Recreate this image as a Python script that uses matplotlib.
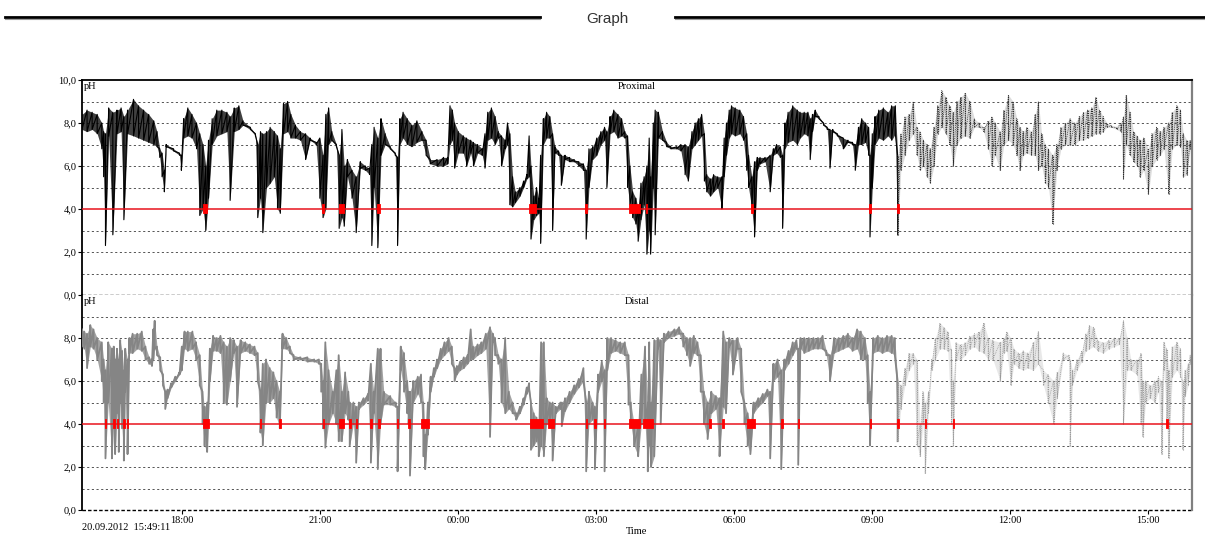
import matplotlib
matplotlib.use("Agg")
import matplotlib.pyplot as plt
from matplotlib.lines import Line2D
import numpy as np

# recording start 20.09.2012 15:49:11, in clock hours
START_CLOCK = 15 + 49 / 60 + 11 / 3600
DURATION_H = 24.13
LIGHT_AFTER = 17.75   # trace is drawn lighter/dotted after this (h after start)

# (hours after start, min pH, max pH)
prox_samples = [
    (0.00, 7.7, 8.4), (0.11, 7.6, 8.6), (0.22, 7.7, 8.5), (0.33, 7.5, 8.4), (0.43, 6.8, 8.0),
    (0.47, 5.5, 7.6), (0.51, 2.3, 7.5), (0.58, 7.4, 8.7), (0.67, 2.8, 8.5), (0.76, 7.5, 8.6),
    (0.85, 7.6, 8.7), (0.91, 3.5, 8.3), (0.99, 7.5, 8.6), (1.12, 7.4, 9.1), (1.23, 7.3, 8.8),
    (1.34, 7.2, 8.6), (1.45, 7.1, 8.4), (1.56, 7.0, 8.1), (1.63, 6.9, 7.6), (1.69, 6.4, 6.8),
    (1.74, 5.5, 6.6), (1.79, 4.8, 5.8), (1.83, 6.9, 7.0), (1.99, 6.7, 6.8), (2.12, 6.5, 6.6),
    (2.16, 5.8, 6.5), (2.21, 7.3, 8.2), (2.30, 7.4, 8.7), (2.39, 7.3, 8.4), (2.49, 6.8, 8.0),
    (2.56, 3.7, 7.5), (2.63, 4.0, 7.0), (2.69, 3.0, 6.0), (2.75, 4.5, 7.2), (2.83, 7.0, 8.2),
    (2.93, 7.4, 8.6), (3.04, 7.5, 8.6), (3.15, 7.6, 8.5), (3.22, 4.4, 8.3), (3.31, 7.6, 8.7),
    (3.41, 7.7, 8.8), (3.50, 7.9, 8.1), (3.66, 7.7, 7.8), (3.77, 7.4, 7.5), (3.82, 3.6, 7.0),
    (3.88, 4.5, 7.6), (3.93, 2.9, 7.5), (4.01, 5.0, 7.6), (4.09, 5.2, 7.8), (4.18, 5.5, 7.6),
    (4.25, 4.0, 7.4), (4.31, 3.8, 6.8), (4.38, 7.5, 8.9), (4.47, 7.6, 9.0), (4.54, 7.3, 8.4),
    (4.64, 7.3, 7.9), (4.75, 7.2, 7.6), (4.86, 6.3, 7.5), (4.96, 7.2, 7.3), (5.09, 7.0, 7.1),
    (5.17, 4.5, 7.3), (5.24, 3.6, 6.5), (5.30, 4.0, 8.4), (5.36, 7.0, 8.7), (5.43, 7.2, 7.6),
    (5.53, 6.9, 7.0), (5.59, 3.1, 6.5), (5.65, 3.6, 7.7), (5.70, 3.2, 6.0), (5.77, 5.5, 6.3),
    (5.87, 4.5, 5.8), (5.96, 2.9, 5.5), (6.05, 5.9, 6.2), (6.16, 5.8, 6.0), (6.25, 5.6, 5.9),
    (6.30, 2.3, 7.0), (6.35, 5.0, 7.8), (6.43, 2.2, 7.3), (6.50, 6.5, 8.2), (6.59, 7.0, 7.5),
    (6.70, 6.8, 6.9), (6.81, 6.5, 6.6), (6.86, 2.3, 6.4), (6.91, 7.0, 8.2), (6.98, 7.3, 8.5),
    (7.07, 7.0, 8.2), (7.17, 6.9, 7.9), (7.28, 7.1, 8.1), (7.39, 7.2, 7.6), (7.48, 6.5, 7.2),
    (7.57, 6.1, 6.3), (7.72, 6.0, 6.3), (7.86, 6.0, 6.4), (7.95, 6.1, 6.4), (8.00, 7.0, 8.8),
    (8.05, 7.2, 8.6), (8.10, 5.9, 8.0), (8.18, 6.6, 7.6), (8.29, 6.6, 7.4), (8.36, 6.0, 7.3),
    (8.45, 6.6, 7.2), (8.51, 6.0, 7.1), (8.60, 6.6, 7.0), (8.70, 6.5, 6.8), (8.76, 5.9, 7.5),
    (8.82, 7.2, 8.5), (8.90, 7.3, 8.7), (8.98, 7.0, 8.3), (9.05, 7.3, 7.6), (9.12, 6.0, 7.4),
    (9.20, 6.8, 7.2), (9.25, 7.0, 8.0), (9.30, 4.2, 7.5), (9.36, 4.1, 5.5), (9.42, 4.3, 4.8),
    (9.52, 4.6, 5.0), (9.60, 5.0, 5.3), (9.67, 5.4, 5.6), (9.72, 5.5, 7.4), (9.76, 2.6, 6.0),
    (9.82, 3.5, 4.6), (9.88, 3.7, 5.0), (9.93, 3.8, 4.5), (9.97, 2.4, 6.5), (10.03, 7.0, 8.2),
    (10.10, 7.3, 8.5), (10.17, 7.3, 8.3), (10.23, 3.0, 7.5), (10.28, 6.6, 6.9), (10.36, 6.5, 6.7),
    (10.42, 5.1, 6.5), (10.50, 6.3, 6.5), (10.60, 6.2, 6.4), (10.70, 6.2, 6.3), (10.80, 6.0, 6.2),
    (10.90, 5.8, 6.1), (10.96, 2.6, 5.8), (11.02, 5.0, 6.8), (11.10, 6.3, 6.9), (11.19, 6.5, 7.3),
    (11.28, 7.0, 7.6), (11.36, 7.2, 7.8), (11.41, 5.0, 7.6), (11.48, 7.5, 8.3), (11.56, 7.6, 8.6),
    (11.65, 7.3, 8.4), (11.73, 7.4, 8.2), (11.80, 7.3, 7.6), (11.86, 5.0, 7.4), (11.91, 4.2, 6.0),
    (11.97, 3.6, 4.8), (12.04, 3.3, 4.5), (12.09, 2.5, 4.0), (12.15, 3.5, 5.2), (12.22, 4.2, 5.5),
    (12.28, 1.9, 6.0), (12.33, 3.0, 7.3), (12.36, 1.9, 5.5), (12.42, 5.0, 8.0), (12.46, 2.8, 8.6),
    (12.53, 7.3, 8.5), (12.62, 7.2, 7.6), (12.71, 6.9, 7.1), (12.80, 6.8, 6.9), (12.93, 6.8, 6.9),
    (13.02, 6.7, 7.0), (13.11, 5.6, 7.0), (13.18, 5.3, 6.9), (13.26, 6.8, 7.6), (13.33, 7.0, 8.0),
    (13.40, 7.2, 8.2), (13.47, 7.4, 8.4), (13.53, 5.3, 7.5), (13.58, 4.8, 5.6), (13.66, 4.6, 5.4),
    (13.73, 4.8, 5.6), (13.82, 5.0, 5.5), (13.91, 4.0, 5.5), (13.96, 5.5, 7.3), (14.01, 6.5, 8.0),
    (14.07, 7.3, 8.6), (14.12, 7.5, 8.8), (14.20, 7.4, 8.7), (14.30, 7.5, 8.6), (14.38, 7.2, 8.3),
    (14.45, 5.8, 7.5), (14.49, 5.0, 6.5), (14.56, 4.0, 5.5), (14.62, 2.7, 6.2), (14.68, 5.8, 6.4),
    (14.74, 6.1, 6.4), (14.85, 6.2, 6.4), (14.96, 4.8, 6.5), (15.03, 6.5, 6.8), (15.10, 6.6, 7.0),
    (15.18, 6.4, 6.9), (15.23, 3.1, 6.5), (15.28, 6.8, 8.0), (15.35, 7.1, 8.5), (15.45, 7.2, 8.8),
    (15.55, 7.0, 8.6), (15.61, 7.3, 8.5), (15.70, 7.5, 8.5), (15.78, 7.4, 8.5), (15.83, 6.3, 8.2),
    (15.88, 7.6, 8.4), (15.94, 8.3, 8.6), (16.02, 8.2, 8.3), (16.12, 7.9, 8.0), (16.20, 7.7, 7.8),
    (16.26, 5.9, 7.7), (16.32, 7.6, 7.7), (16.42, 7.4, 7.5), (16.55, 6.8, 7.3), (16.65, 7.1, 7.2),
    (16.75, 7.0, 7.1), (16.81, 5.8, 7.0), (16.88, 7.0, 7.8), (16.95, 7.0, 8.2), (17.03, 7.1, 8.0),
    (17.10, 6.5, 7.8), (17.13, 2.7, 6.5), (17.18, 5.0, 7.5), (17.24, 7.0, 8.3), (17.32, 7.3, 8.6),
    (17.42, 7.2, 8.7), (17.52, 7.4, 8.5), (17.60, 7.2, 8.8), (17.68, 7.5, 8.8), (17.73, 2.8, 6.5),
    (17.80, 5.8, 7.5), (17.89, 6.5, 8.3), (17.98, 7.2, 8.4), (18.07, 7.5, 9.0), (18.15, 6.5, 7.8),
    (18.22, 5.8, 7.6), (18.29, 6.0, 7.2), (18.37, 5.5, 7.0), (18.44, 5.2, 6.8), (18.52, 6.0, 7.8),
    (18.60, 7.5, 8.8), (18.69, 7.8, 9.5), (18.78, 7.5, 9.2), (18.86, 7.0, 8.8), (18.94, 6.0, 8.5),
    (19.02, 7.0, 9.0), (19.10, 7.3, 9.2), (19.20, 7.4, 9.4), (19.30, 7.3, 9.0), (19.40, 7.8, 8.2),
    (19.50, 7.8, 8.0), (19.60, 7.6, 7.8), (19.70, 6.8, 8.1), (19.78, 6.0, 8.3), (19.85, 6.5, 8.0),
    (19.96, 5.8, 7.6), (20.04, 7.0, 8.6), (20.14, 7.2, 9.3), (20.24, 7.0, 9.0), (20.32, 6.5, 8.2),
    (20.39, 5.8, 7.8), (20.46, 6.5, 7.6), (20.54, 6.6, 7.8), (20.64, 6.5, 7.6), (20.72, 6.5, 8.4),
    (20.79, 5.8, 9.0), (20.86, 6.0, 7.5), (20.94, 5.2, 7.0), (21.01, 5.0, 6.8), (21.10, 3.3, 6.5),
    (21.19, 5.8, 7.0), (21.28, 6.8, 7.8), (21.38, 7.0, 8.0), (21.48, 7.0, 8.2), (21.58, 7.0, 8.0),
    (21.68, 7.2, 8.3), (21.77, 7.2, 8.5), (21.86, 7.3, 8.6), (21.95, 7.4, 8.7), (22.04, 7.5, 9.2),
    (22.12, 7.5, 8.6), (22.20, 7.6, 8.3), (22.28, 7.8, 8.0), (22.38, 7.8, 7.9), (22.49, 7.7, 7.8),
    (22.58, 7.6, 8.0), (22.64, 5.4, 8.3), (22.70, 7.0, 9.3), (22.78, 6.5, 8.5), (22.86, 6.2, 7.6),
    (22.94, 6.0, 7.4), (23.00, 5.5, 7.2), (23.08, 5.8, 7.3), (23.18, 4.7, 6.8), (23.26, 6.0, 7.5),
    (23.36, 6.3, 7.8), (23.44, 6.5, 7.6), (23.52, 6.8, 7.8), (23.62, 4.7, 8.0), (23.70, 6.8, 8.5),
    (23.80, 7.0, 8.8), (23.88, 6.9, 8.6), (23.94, 5.5, 7.5), (24.02, 5.6, 7.2), (24.09, 6.8, 7.2),
]

distal_samples = [
    (0.00, 7.6, 8.4), (0.05, 7.5, 8.3), (0.11, 6.6, 8.2), (0.18, 7.6, 8.6), (0.25, 7.5, 8.4),
    (0.33, 7.0, 8.0), (0.43, 6.0, 7.8), (0.47, 5.0, 7.0), (0.51, 2.4, 6.5), (0.57, 5.0, 7.8),
    (0.65, 2.4, 7.5), (0.69, 4.0, 7.6), (0.72, 2.6, 7.0), (0.76, 4.5, 7.5), (0.80, 2.7, 7.0),
    (0.83, 5.0, 7.9), (0.87, 3.8, 7.4), (0.91, 2.3, 6.5), (0.94, 5.5, 7.5), (0.99, 2.6, 7.0),
    (1.03, 7.3, 8.0), (1.10, 7.3, 8.2), (1.20, 7.5, 8.2), (1.30, 7.4, 8.3), (1.38, 7.0, 7.6),
    (1.46, 6.8, 7.1), (1.52, 6.7, 7.0), (1.55, 7.0, 8.4), (1.58, 7.5, 8.8), (1.63, 7.2, 7.6),
    (1.70, 6.5, 7.1), (1.76, 5.8, 6.3), (1.81, 4.7, 5.5), (1.86, 5.2, 5.6), (1.94, 5.7, 5.9),
    (2.03, 6.0, 6.2), (2.12, 6.3, 6.4), (2.17, 6.5, 7.6), (2.23, 7.5, 8.3), (2.30, 7.4, 8.3),
    (2.40, 7.5, 8.3), (2.48, 7.0, 7.8), (2.56, 5.8, 7.2), (2.62, 4.0, 5.5), (2.66, 3.0, 4.8),
    (2.72, 2.7, 5.0), (2.78, 6.0, 7.5), (2.85, 7.4, 8.1), (2.93, 7.4, 8.0), (3.01, 7.3, 8.1),
    (3.08, 5.0, 7.8), (3.15, 4.9, 7.6), (3.22, 6.0, 8.0), (3.30, 7.3, 7.9), (3.37, 4.8, 7.6),
    (3.45, 7.3, 7.9), (3.55, 7.4, 7.8), (3.65, 7.3, 7.7), (3.75, 7.2, 7.6), (3.82, 6.0, 7.3),
    (3.88, 3.6, 5.5), (3.93, 3.0, 6.8), (4.00, 5.0, 7.0), (4.08, 5.0, 6.6), (4.16, 5.2, 6.4),
    (4.23, 4.3, 6.0), (4.30, 3.8, 5.5), (4.36, 7.5, 8.2), (4.44, 7.5, 8.0), (4.52, 7.3, 7.6),
    (4.60, 7.0, 7.2), (4.75, 7.0, 7.1), (4.90, 6.9, 7.1), (5.05, 6.9, 7.0), (5.15, 6.8, 7.0),
    (5.20, 5.5, 6.8), (5.24, 3.8, 6.0), (5.29, 2.9, 7.8), (5.36, 4.0, 6.5), (5.45, 4.5, 5.5),
    (5.53, 4.0, 6.5), (5.58, 3.2, 7.2), (5.65, 3.2, 5.5), (5.72, 4.5, 6.4), (5.79, 4.2, 5.5),
    (5.82, 3.0, 5.0), (5.90, 4.0, 5.0), (5.96, 2.2, 4.8), (6.02, 4.7, 5.0), (6.12, 4.9, 5.2),
    (6.22, 5.1, 5.4), (6.28, 2.2, 6.8), (6.34, 4.5, 5.5), (6.43, 1.9, 7.5), (6.49, 4.0, 7.5),
    (6.56, 4.9, 5.5), (6.70, 4.9, 5.3), (6.82, 4.8, 5.0), (6.86, 1.8, 4.8), (6.93, 6.5, 7.6),
    (7.00, 5.5, 7.3), (7.07, 4.5, 6.0), (7.10, 4.0, 5.5), (7.13, 1.6, 5.5), (7.20, 5.0, 6.0),
    (7.30, 5.4, 6.2), (7.37, 5.0, 6.3), (7.42, 2.5, 5.0), (7.46, 1.9, 3.5), (7.52, 3.5, 5.0),
    (7.58, 5.5, 6.2), (7.65, 6.2, 6.6), (7.72, 6.6, 7.0), (7.80, 7.0, 7.5), (7.88, 7.2, 7.8),
    (7.97, 7.4, 8.0), (8.04, 6.8, 7.6), (8.10, 6.0, 6.6), (8.15, 6.3, 6.7), (8.22, 6.5, 6.9),
    (8.30, 6.6, 7.1), (8.38, 6.8, 7.2), (8.45, 7.0, 8.4), (8.50, 7.0, 7.6), (8.60, 7.2, 7.7),
    (8.68, 7.3, 7.8), (8.78, 7.5, 8.2), (8.87, 3.4, 8.5), (8.93, 7.8, 8.2), (8.98, 7.2, 8.0),
    (9.05, 6.8, 7.2), (9.12, 5.0, 7.0), (9.20, 4.5, 8.0), (9.28, 4.7, 5.5), (9.36, 4.5, 5.0),
    (9.44, 4.2, 4.5), (9.52, 4.5, 4.8), (9.60, 4.9, 5.2), (9.67, 5.4, 5.7), (9.72, 5.6, 5.9),
    (9.76, 2.8, 5.0), (9.82, 3.0, 4.5), (9.88, 3.2, 4.3), (9.93, 2.5, 4.0), (9.98, 3.0, 7.8),
    (10.04, 2.5, 7.8), (10.10, 4.0, 5.2), (10.17, 4.2, 5.0), (10.23, 2.3, 5.0), (10.30, 4.5, 4.8),
    (10.40, 4.7, 5.0), (10.43, 3.9, 5.0), (10.50, 4.6, 5.2), (10.60, 5.0, 5.5), (10.70, 5.4, 5.8),
    (10.80, 5.7, 6.1), (10.90, 6.0, 6.6), (10.96, 1.8, 5.0), (11.02, 4.0, 5.5), (11.10, 4.2, 5.0),
    (11.15, 1.9, 4.8), (11.22, 5.5, 6.3), (11.30, 6.0, 6.9), (11.36, 1.8, 6.5), (11.42, 6.5, 8.0),
    (11.50, 7.3, 8.0), (11.60, 7.4, 7.9), (11.70, 7.3, 7.8), (11.80, 7.2, 7.8), (11.88, 4.9, 7.2),
    (11.93, 4.0, 5.0), (12.00, 3.0, 4.0), (12.09, 2.5, 3.8), (12.16, 4.0, 6.3), (12.24, 4.0, 7.6),
    (12.30, 1.8, 5.0), (12.33, 3.0, 7.8), (12.37, 2.0, 5.0), (12.44, 2.5, 7.9), (12.52, 7.5, 8.0),
    (12.58, 4.0, 7.9), (12.65, 7.8, 8.2), (12.75, 8.0, 8.3), (12.88, 8.1, 8.4), (12.98, 8.2, 8.5),
    (13.07, 7.6, 8.2), (13.15, 7.2, 8.0), (13.22, 6.7, 8.0), (13.30, 7.3, 8.1), (13.38, 7.2, 7.8),
    (13.45, 5.5, 7.2), (13.52, 4.0, 5.5), (13.60, 3.3, 5.0), (13.68, 4.5, 5.5), (13.78, 4.7, 5.3),
    (13.86, 2.5, 5.2), (13.94, 4.8, 8.3), (14.00, 4.5, 7.8), (14.07, 7.6, 8.0), (14.15, 6.3, 7.9),
    (14.25, 7.5, 8.0), (14.33, 5.5, 7.5), (14.40, 4.0, 5.0), (14.47, 3.0, 4.5), (14.53, 2.6, 4.0),
    (14.60, 4.5, 5.0), (14.70, 4.8, 5.2), (14.80, 5.0, 5.4), (14.90, 5.3, 5.6), (14.96, 2.4, 5.5),
    (15.03, 6.0, 6.8), (15.12, 6.2, 7.0), (15.20, 1.9, 6.5), (15.27, 6.5, 7.0), (15.36, 6.8, 7.4),
    (15.45, 7.2, 7.8), (15.53, 7.5, 7.9), (15.57, 2.1, 7.5), (15.62, 7.5, 8.0), (15.70, 7.3, 8.0),
    (15.80, 7.4, 8.0), (15.90, 7.5, 8.0), (16.00, 7.5, 8.0), (16.10, 7.5, 8.1), (16.18, 7.2, 7.4),
    (16.26, 6.0, 7.2), (16.35, 7.3, 8.0), (16.45, 7.4, 8.0), (16.55, 7.5, 8.1), (16.65, 7.6, 8.2),
    (16.75, 7.4, 8.0), (16.85, 7.5, 8.4), (16.93, 7.0, 8.3), (17.02, 7.0, 8.0), (17.08, 5.0, 7.2),
    (17.13, 3.0, 5.5), (17.20, 7.3, 8.0), (17.30, 7.4, 8.1), (17.40, 7.3, 8.0), (17.50, 7.4, 8.1),
    (17.60, 7.3, 8.1), (17.67, 7.2, 8.0), (17.73, 3.2, 6.0), (17.80, 4.7, 5.8), (17.89, 5.8, 6.6),
    (17.98, 6.5, 7.3), (18.07, 6.8, 7.3), (18.15, 3.0, 7.0), (18.22, 2.5, 4.0), (18.28, 4.0, 5.5),
    (18.33, 1.7, 5.0), (18.40, 4.5, 5.5), (18.47, 6.5, 7.0), (18.55, 7.0, 8.0), (18.65, 7.5, 8.7),
    (18.74, 7.5, 8.5), (18.82, 7.4, 8.3), (18.90, 4.0, 7.5), (18.94, 3.0, 6.0), (19.00, 7.0, 7.8),
    (19.10, 7.0, 7.7), (19.20, 7.2, 7.8), (19.30, 7.5, 8.1), (19.40, 7.6, 8.2), (19.50, 7.4, 8.3),
    (19.60, 7.3, 8.7), (19.70, 7.0, 8.0), (19.80, 7.0, 7.9), (19.96, 6.0, 7.8), (20.04, 7.3, 8.0),
    (20.10, 7.4, 8.3), (20.19, 5.8, 8.0), (20.26, 6.8, 7.5), (20.36, 6.6, 7.3), (20.46, 6.5, 7.4),
    (20.56, 6.6, 7.3), (20.68, 6.5, 7.8), (20.79, 6.8, 8.3), (20.90, 5.8, 6.5), (21.00, 5.0, 6.3),
    (21.12, 4.0, 6.0), (21.20, 5.2, 6.4), (21.33, 7.0, 7.3), (21.45, 7.0, 7.2), (21.48, 3.0, 7.0),
    (21.53, 5.8, 6.5), (21.63, 6.5, 7.0), (21.73, 6.9, 7.4), (21.82, 7.4, 8.2), (21.90, 7.5, 8.6),
    (21.99, 7.6, 8.5), (22.08, 7.4, 7.9), (22.20, 7.3, 7.8), (22.32, 7.5, 7.9), (22.44, 7.6, 8.0),
    (22.55, 7.7, 8.0), (22.64, 4.0, 8.8), (22.72, 6.5, 8.0), (22.80, 6.5, 7.0), (22.93, 6.3, 7.0),
    (23.02, 4.0, 7.3), (23.06, 3.4, 6.0), (23.12, 5.0, 6.0), (23.22, 5.2, 5.8), (23.32, 5.0, 6.0),
    (23.40, 5.5, 6.2), (23.47, 2.6, 6.0), (23.52, 6.5, 7.8), (23.58, 4.0, 7.5), (23.62, 2.4, 6.5),
    (23.70, 6.2, 7.6), (23.80, 6.5, 7.8), (23.88, 6.2, 7.5), (23.93, 2.8, 6.0), (23.98, 5.3, 6.5),
    (24.05, 5.8, 6.8), (24.09, 6.8, 7.2),
]

# acid episodes (pH < 4) flagged in red on the 4,0 line, hours after start
prox_reflux_start = [2.64, 5.22, 5.58, 6.42, 9.72, 10.94, 11.90, 12.25, 14.54, 17.11, 17.71]
prox_reflux_end = [2.72, 5.27, 5.70, 6.47, 9.88, 10.98, 12.13, 12.29, 14.59, 17.15, 17.75]
distal_reflux_start = [0.50, 0.68, 0.75, 0.90, 0.98, 2.62, 3.87, 4.29, 5.23, 5.59, 5.81, 5.95,
                       6.27, 6.44, 6.85, 7.09, 7.38, 9.73, 10.13, 10.95, 11.14, 11.35, 11.90,
                       12.19, 13.64, 13.92, 14.46, 15.20, 15.56, 17.12, 17.72, 18.32, 18.93, 23.57]
distal_reflux_end = [0.53, 0.71, 0.78, 0.93, 1.01, 2.76, 3.90, 4.32, 5.26, 5.70, 5.84, 5.98,
                     6.30, 6.48, 6.88, 7.12, 7.54, 10.03, 10.25, 10.98, 11.17, 11.38, 12.13,
                     12.42, 13.67, 13.95, 14.63, 15.23, 15.59, 17.15, 17.75, 18.35, 18.96, 23.60]

clock_ticks = [18, 21, 24, 27, 30, 33, 36, 39]
clock_labels = ["18:00", "21:00", "00:00", "03:00", "06:00", "09:00", "12:00", "15:00"]
ph_ticks = [0, 2, 4, 6, 8, 10]
ph_labels = ["0,0", "2,0", "4,0", "6,0", "8,0", "10,0"]

SERIF = "Liberation Serif"
FS = 7.5


def columns(rows):
    t = np.array([r[0] for r in rows]) + START_CLOCK
    lo = np.array([r[1] for r in rows])
    hi = np.array([r[2] for r in rows])
    return t, lo, hi


def zigzag(t, lo, hi):
    """Each min/max column as a vertical stroke, joined to the next one."""
    x = np.repeat(t, 2)
    y = np.column_stack([hi, lo]).ravel()
    return x, y


def draw_trace(ax, rows, dark, light, lw_dark, late_alpha):
    early = [r for r in rows if r[0] <= LIGHT_AFTER]
    late = [r for r in rows if r[0] >= early[-1][0]]

    t, lo, hi = columns(early)
    ax.fill_between(t, lo, hi, color=dark, alpha=0.75, lw=0, zorder=3)
    ax.plot(*zigzag(t, lo, hi), color=dark, lw=lw_dark, zorder=3)

    # after ~09:35 the recorder draws the trace as dotted strokes
    t, lo, hi = columns(late)
    ax.fill_between(t, lo, hi, color=light, alpha=late_alpha, lw=0, zorder=3)
    ax.vlines(t, lo, hi, color=light, lw=0.8, ls=(0, (1.0, 1.0)), zorder=3)
    ax.plot(*zigzag(t, lo, hi), color=light, lw=0.6, ls=(0, (1.0, 1.2)), zorder=3)


def draw_reflux(ax, starts, ends):
    spans = [(s + START_CLOCK, e - s) for s, e in zip(starts, ends)]
    ax.broken_barh(spans, (3.8, 0.45), facecolors="#ff0000", edgecolors="#ff0000",
                   lw=0.6, zorder=5)


def style_panel(ax, title, yticks, ylabels, top_solid):
    ax.set_xlim(START_CLOCK, START_CLOCK + DURATION_H)
    ax.set_ylim(0, 10)
    for y in [1, 2, 3, 5, 6, 7, 8, 9]:
        ax.axhline(y, color="#555555", lw=0.7, ls=(0, (2.2, 2.6)), zorder=1)
    ax.axhline(4, color="#e8141c", lw=1.1, zorder=4)
    ax.spines["left"].set_color("black")
    ax.spines["left"].set_linewidth(1.3)
    ax.spines["right"].set_color("#808080")
    ax.spines["right"].set_linewidth(1.6)
    ax.spines["bottom"].set_visible(False)
    ax.axhline(0, color="black", lw=1.0, ls=(0, (2.5, 1.5)), zorder=2, clip_on=False)
    if top_solid:
        ax.spines["top"].set_color("black")
        ax.spines["top"].set_linewidth(1.3)
    else:
        ax.spines["top"].set_visible(False)
    ax.set_yticks(yticks)
    ax.set_yticklabels(ylabels, fontsize=FS, family=SERIF)
    ax.tick_params(axis="y", direction="out", length=3, width=0.8, pad=1)
    ax.text(0.002, 0.99, "pH", transform=ax.transAxes, ha="left", va="top",
            fontsize=FS, family=SERIF)
    ax.text(0.5, 0.99, title, transform=ax.transAxes, ha="center", va="top",
            fontsize=FS, family=SERIF)


fig = plt.figure(figsize=(12.05, 5.4), dpi=100)
ax_top = fig.add_axes([82 / 1205, 245 / 540, 1110 / 1205, 215 / 540])
ax_bot = fig.add_axes([82 / 1205, 30 / 540, 1110 / 1205, 215 / 540])

style_panel(ax_top, "Proximal", ph_ticks, ph_labels, top_solid=True)
style_panel(ax_bot, "Distal", ph_ticks[:-1], ph_labels[:-1], top_solid=False)

draw_trace(ax_top, prox_samples, "black", "#2a2a2a", 0.8, 0.16)
draw_trace(ax_bot, distal_samples, "#858585", "#9a9a9a", 1.3, 0.22)
draw_reflux(ax_top, prox_reflux_start, prox_reflux_end)
draw_reflux(ax_bot, distal_reflux_start, distal_reflux_end)

ax_top.set_xticks([])
ax_bot.set_xticks(clock_ticks)
ax_bot.set_xticklabels(clock_labels, fontsize=FS, family=SERIF)
ax_bot.tick_params(axis="x", direction="out", length=3, width=0.8, pad=1)

fig.text(82 / 1205, 1 - 527 / 540, "20.09.2012  15:49:11", ha="left", va="center",
         fontsize=FS, family=SERIF)
fig.text(637 / 1205, 1 - 531 / 540, "Time", ha="center", va="center",
         fontsize=FS, family=SERIF)

# header rule with title
for x0, x1 in [(5, 540), (675, 1205)]:
    fig.add_artist(Line2D([x0 / 1205, x1 / 1205], [1 - 16.5 / 540] * 2, color="black", lw=2.0))
    fig.add_artist(Line2D([x0 / 1205, x1 / 1205], [1 - 18.6 / 540] * 2, color="#9a9a9a", lw=0.8))
fig.text(607 / 1205, 1 - 19 / 540, "Graph", ha="center", va="center",
         fontsize=11, family="Liberation Sans", color="#333333")

fig.savefig("out.png", dpi=100)
